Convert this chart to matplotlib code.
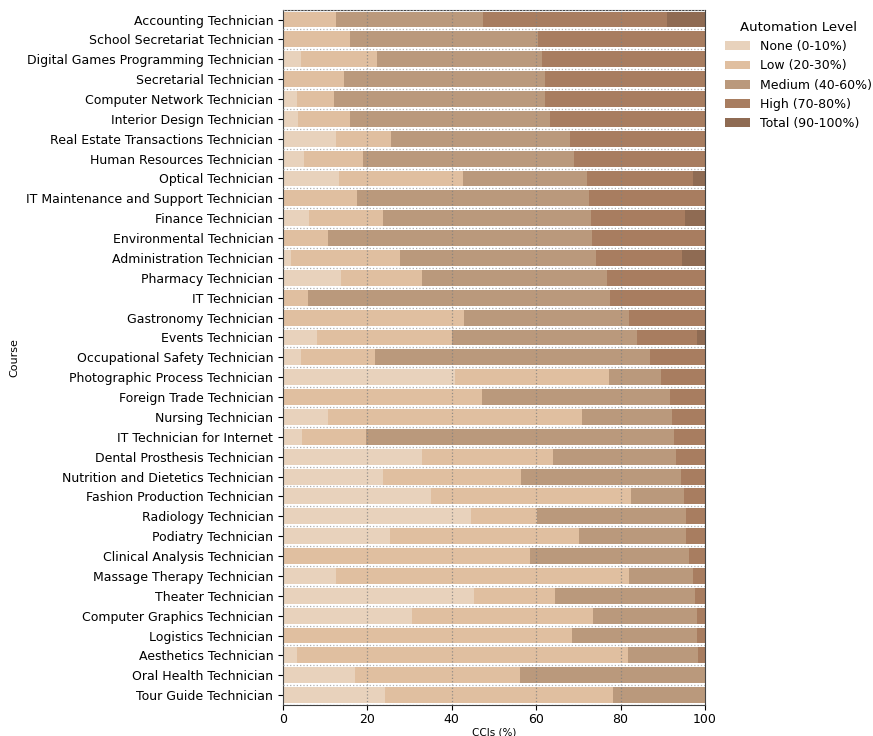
import matplotlib
matplotlib.use("Agg")
import matplotlib.pyplot as plt
import numpy as np

courses = ["Accounting Technician","School Secretariat Technician","Digital Games Programming Technician",
"Secretarial Technician","Computer Network Technician","Interior Design Technician",
"Real Estate Transactions Technician","Human Resources Technician","Optical Technician",
"IT Maintenance and Support Technician","Finance Technician","Environmental Technician",
"Administration Technician","Pharmacy Technician","IT Technician","Gastronomy Technician",
"Events Technician","Occupational Safety Technician","Photographic Process Technician",
"Foreign Trade Technician","Nursing Technician","IT Technician for Internet",
"Dental Prosthesis Technician","Nutrition and Dietetics Technician","Fashion Production Technician",
"Radiology Technician","Podiatry Technician","Clinical Analysis Technician","Massage Therapy Technician",
"Theater Technician","Computer Graphics Technician","Logistics Technician","Aesthetics Technician",
"Oral Health Technician","Tour Guide Technician"]

# cumulative boundaries (end of None, Low, Medium, High) in %
cum_none = [0,0,4.4,0,3.4,3.5,12.7,5.1,13.2,0,6.3,0,1.9,13.7,0,0,8.0,4.4,40.8,0,10.7,4.6,33.0,23.8,35.0,44.6,25.3,0,12.6,45.2,30.6,0,3.3,17.1,24.3]
cum_low = [12.7,15.8,22.4,14.4,12.1,15.8,25.5,19.0,42.7,17.5,23.8,10.7,27.8,33.0,6.0,42.9,40.0,21.8,77.3,47.2,70.8,19.7,64.1,56.5,82.5,60.1,70.1,58.5,81.9,64.4,73.5,68.6,81.7,56.1,78.1]
cum_med = [47.3,60.5,61.3,62.0,62.2,63.2,68.1,69.0,72.1,72.6,73.1,73.3,74.2,76.8,77.6,82.1,84.0,87.0,89.5,91.7,92.1,92.6,93.1,94.2,95.1,95.4,95.4,96.1,97.2,97.7,98.0,98.2,98.4,100,100]
cum_high = [90.9,100,100,100,100,100,100,100,97.2,100,95.3,100,94.5,100,100,100,98.0,100,100,100,100,100,100,100,100,100,100,100,100,100,100,100,100,100,100]

levels = ["None (0-10%)","Low (20-30%)","Medium (40-60%)","High (70-80%)","Total (90-100%)"]
colors = ["#e8d2bc","#e0bfa0","#ba997c","#a87d60","#8f6b53"]

none = np.array(cum_none)
low = np.array(cum_low) - none
med = np.array(cum_med) - np.array(cum_low)
high = np.array(cum_high) - np.array(cum_med)
total = 100 - np.array(cum_high)
segs = [none, low, med, high, total]

fig = plt.figure(figsize=(8.73, 7.36), dpi=100)
ax = fig.add_axes([0.324, 0.042, 0.4836, 0.945])
y = np.arange(len(courses))
left = np.zeros(len(courses))
for s, c, lab in zip(segs, colors, levels):
    ax.barh(y, s, left=left, color=c, height=0.8, label=lab, zorder=2)
    left += s
ax.set_yticks(y)
ax.set_yticklabels(courses, fontsize=9)
ax.set_ylim(len(courses) - 0.5, -0.5)
ax.set_xlim(0, 100)
ax.set_xticks([0, 20, 40, 60, 80, 100])
ax.tick_params(axis='x', labelsize=9, pad=2)
for x in [20, 40, 60, 80]:
    ax.axvline(x, color='gray', ls=':', lw=0.9, zorder=3, alpha=0.8)
for yy in np.arange(-0.5, len(courses), 1):
    ax.axhline(yy, color='#b0b0b0', ls=':', lw=0.9, zorder=3)
ax.set_xlabel("CCIs (%)", fontsize=7.5, labelpad=1)
ax.set_ylabel("Course", fontsize=8)
ax.yaxis.set_label_coords(-0.625, 0.5)
for sp in ax.spines.values():
    sp.set_color('#444444')
leg = ax.legend(title="Automation Level", loc='upper left', bbox_to_anchor=(1.02, 1.0),
                frameon=False, fontsize=9, title_fontsize=9.5)
fig.savefig("out.png", dpi=100)
